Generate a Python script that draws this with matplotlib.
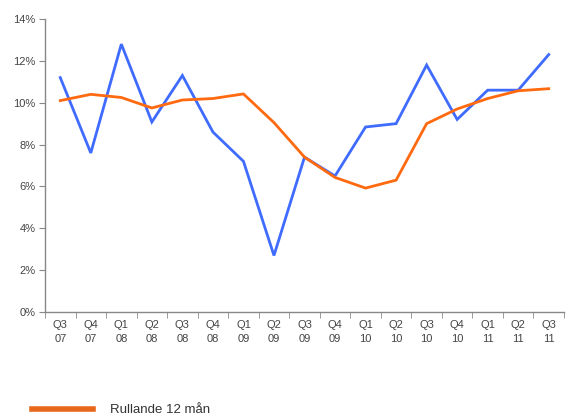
import numpy as np
import matplotlib.pyplot as plt
from matplotlib.lines import Line2D

plt.rcParams['font.family'] = ['Liberation Sans', 'DejaVu Sans']

quarters = ["Q3\n07", "Q4\n07", "Q1\n08", "Q2\n08", "Q3\n08", "Q4\n08", "Q1\n09",
            "Q2\n09", "Q3\n09", "Q4\n09", "Q1\n10", "Q2\n10", "Q3\n10", "Q4\n10",
            "Q1\n11", "Q2\n11", "Q3\n11"]
kvartal = [11.2, 7.6, 12.8, 9.08, 11.3, 8.6, 7.2, 2.7, 7.4, 6.5, 8.84, 9.0,
           11.8, 9.2, 10.6, 10.6, 12.3]
rullande = [10.1, 10.4, 10.25, 9.75, 10.13, 10.2, 10.42, 9.05, 7.4, 6.43,
            5.92, 6.3, 9.0, 9.7, 10.2, 10.57, 10.67]
y_ticks = [0, 2, 4, 6, 8, 10, 12, 14]

blue = "#3f6bff"
orange = "#ff6a10"
grey = "#888888"
text_col = "#444444"

fig = plt.figure(figsize=(5.69, 4.18), dpi=100)
ax = fig.add_axes([45 / 569, 1 - 312 / 418, 519 / 569, 293 / 418])

x = np.arange(len(quarters))
ax.plot(x, kvartal, color=blue, lw=2, solid_joinstyle="miter")
ax.plot(x, rullande, color=orange, lw=2, solid_joinstyle="round")

ax.set_xlim(-0.5, len(quarters) - 0.5)
ax.set_ylim(0, 14)
ax.set_yticks(y_ticks)
ax.set_yticklabels([f"{v}%" for v in y_ticks], fontsize=8, color=text_col)
ax.set_xticks(x)
ax.set_xticklabels(quarters, fontsize=8, color=text_col, linespacing=1.45)
ax.set_xticks(np.arange(-0.5, len(quarters)), minor=True)
ax.tick_params(axis="x", which="major", length=0, pad=6)
ax.tick_params(axis="x", which="minor", length=4, color=grey)
ax.tick_params(axis="y", length=4, color=grey, pad=3)

for s in ["top", "right"]:
    ax.spines[s].set_visible(False)
for s in ["left", "bottom"]:
    ax.spines[s].set_color(grey)
    ax.spines[s].set_linewidth(1)

handle = Line2D([], [], color="#e8671a", lw=4)
fig.legend(handles=[handle], labels=["Rullande 12 mån"], loc="upper left",
           bbox_to_anchor=(28 / 569, 1 - 400 / 418), frameon=False,
           handlelength=4.6, handletextpad=1.3, fontsize=9.5,
           labelcolor="#333333", borderaxespad=0, borderpad=0.3)

fig.savefig("out.png", dpi=100)
